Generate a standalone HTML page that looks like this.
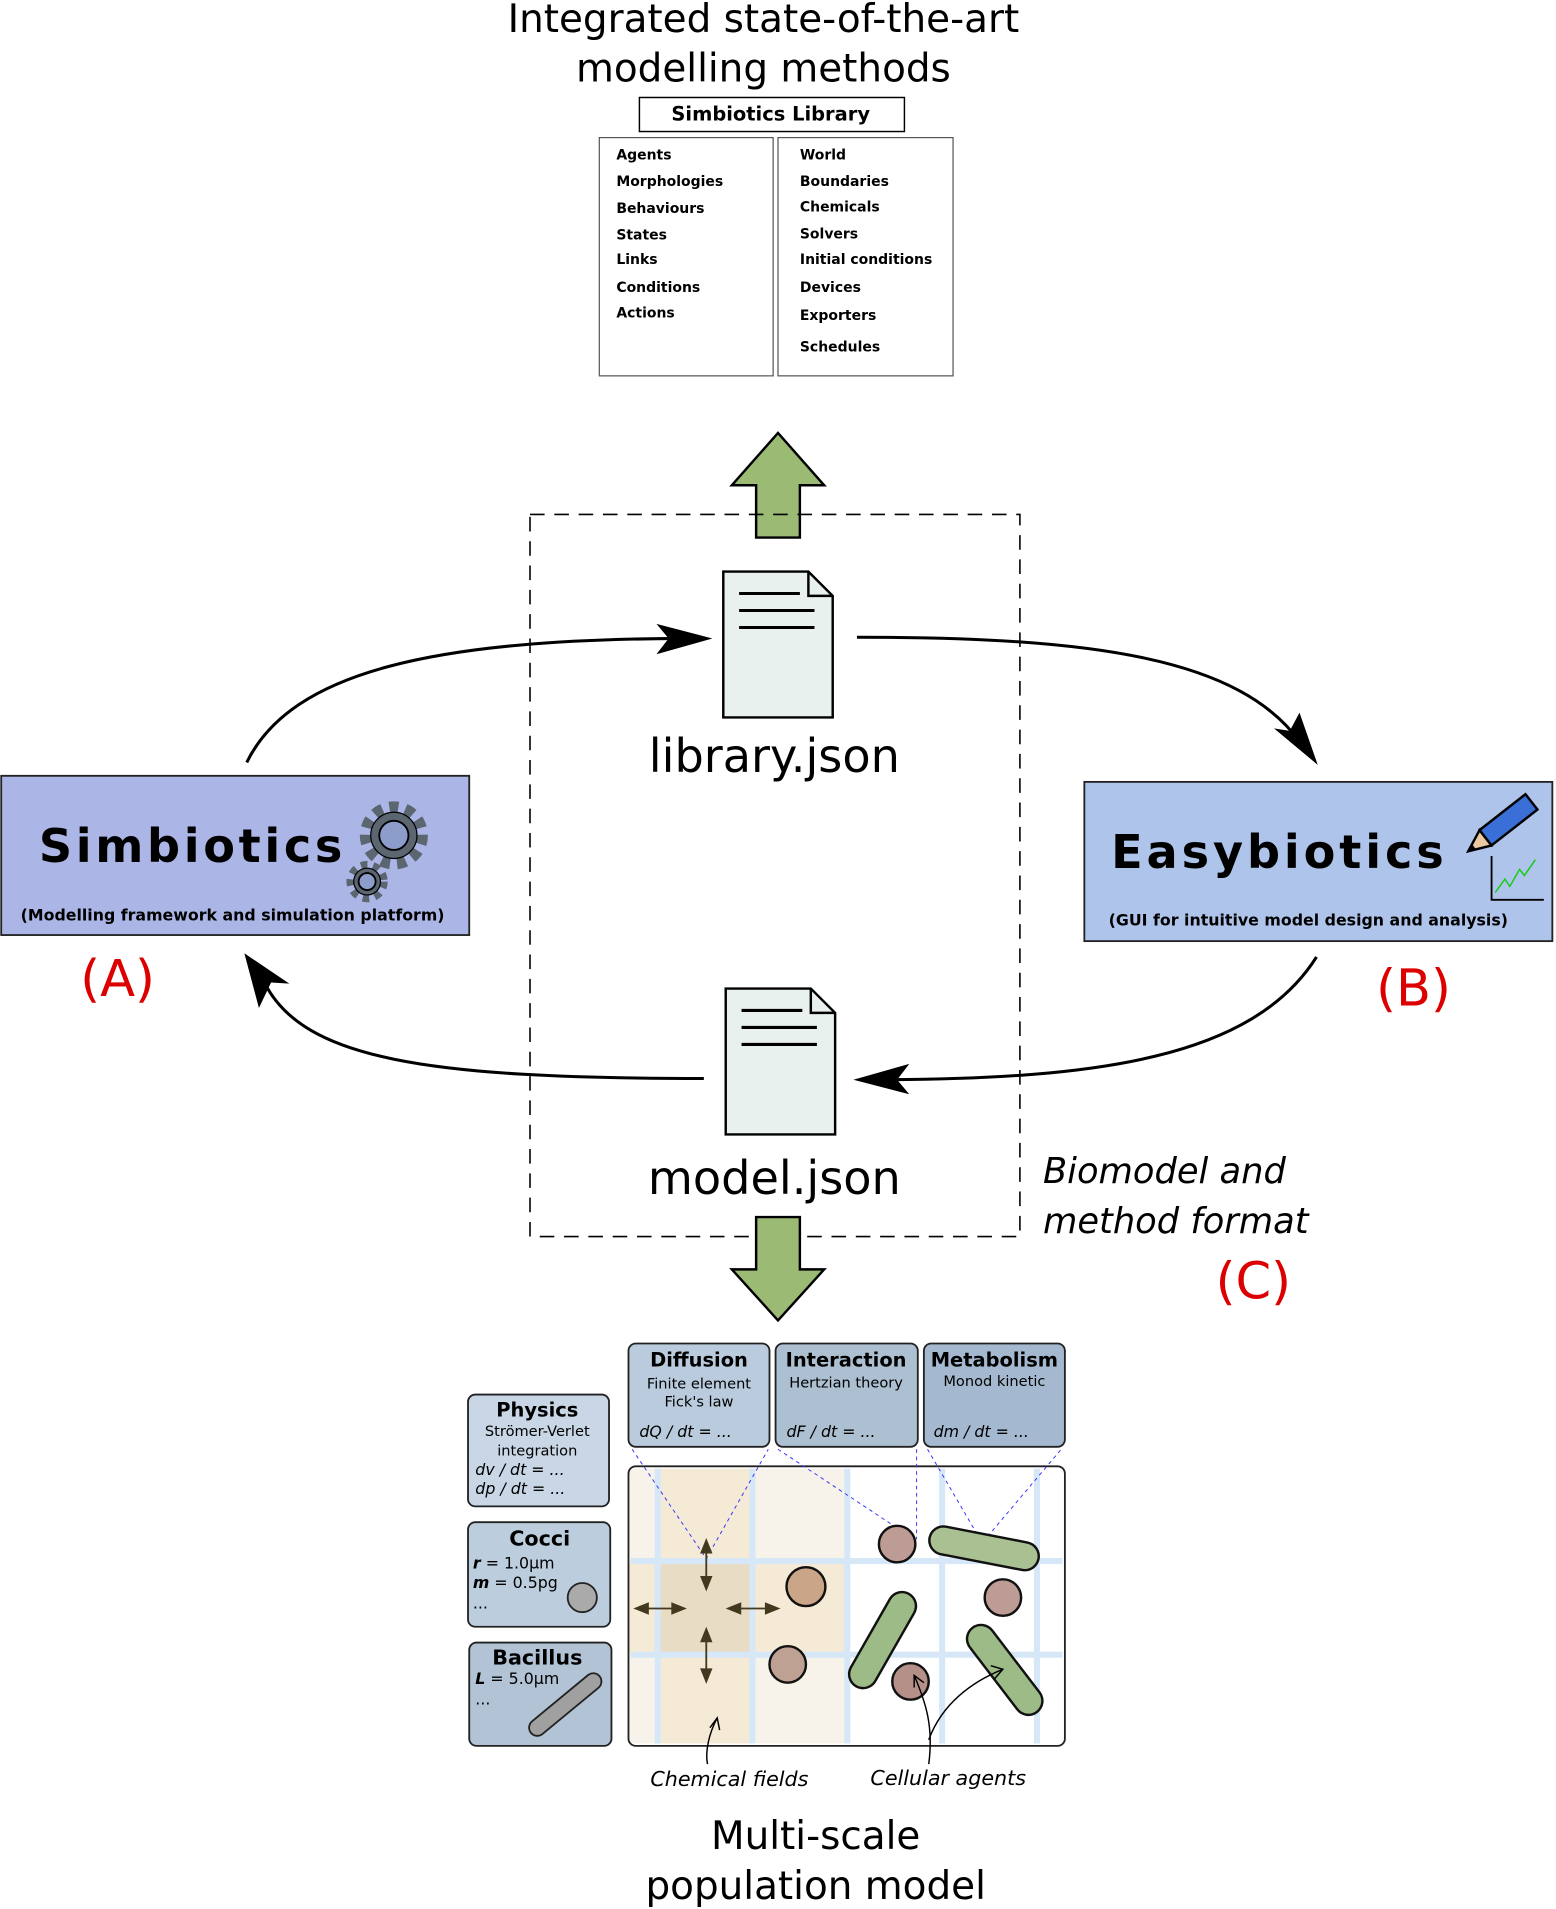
<!DOCTYPE html>
<html><head><meta charset="utf-8"><style>html,body{margin:0;padding:0;background:#fff}svg{display:block}text{font-family:"DejaVu Sans","Liberation Sans",sans-serif}</style></head><body>
<svg width="1556" height="1909" viewBox="0 0 1280 1568" xmlns="http://www.w3.org/2000/svg">
<text x="628" y="25" font-size="32" text-anchor="middle">Integrated state-of-the-art</text>
<text x="628" y="66" font-size="32" text-anchor="middle">modelling methods</text>
<rect x="526" y="79" width="218" height="28" fill="#fff" stroke="#000" stroke-width="1.2"/>
<text x="634" y="98" font-size="16" font-weight="bold" text-anchor="middle">Simbiotics Library</text>
<rect x="493" y="112" width="143" height="196" fill="#fff" stroke="#555"/>
<rect x="640" y="112" width="144" height="196" fill="#fff" stroke="#555"/>
<g font-size="11.5" font-weight="bold">
<text x="507" y="130">Agents</text><text x="507" y="152">Morphologies</text><text x="507" y="174">Behaviours</text><text x="507" y="196">States</text><text x="507" y="216">Links</text><text x="507" y="239">Conditions</text><text x="507" y="260">Actions</text>
<text x="658" y="130">World</text><text x="658" y="152">Boundaries</text><text x="658" y="173">Chemicals</text><text x="658" y="195">Solvers</text><text x="658" y="216">Initial conditions</text><text x="658" y="239">Devices</text><text x="658" y="262">Exporters</text><text x="658" y="288">Schedules</text>
</g>
<path d="M622,441 L658,441 L658,398 L678,398 L640,355 L602,398 L622,398 Z" fill="#9bbb74" stroke="#000" stroke-width="2"/>
<rect x="436" y="422" width="403" height="594" fill="none" stroke="#000" stroke-width="1.3" stroke-dasharray="12,8"/>
<path d="M595,469 L665,469 L685,489 L685,589 L595,589 Z" fill="#e9f1ee" stroke="#000" stroke-width="2"/>
<path d="M665,469 L665,489 L685,489" fill="none" stroke="#000" stroke-width="2"/>
<path d="M608,487h50M608,501h62M608,515h62" stroke="#000" stroke-width="2.5"/>
<text x="637" y="634" font-size="38" text-anchor="middle">library.json</text>
<path d="M597,812 L667,812 L687,832 L687,932 L597,932 Z" fill="#e9f1ee" stroke="#000" stroke-width="2"/>
<path d="M667,812 L667,832 L687,832" fill="none" stroke="#000" stroke-width="2"/>
<path d="M610,830h50M610,844h62M610,858h62" stroke="#000" stroke-width="2.5"/>
<text x="637" y="981" font-size="38" text-anchor="middle">model.json</text>
<text x="858" y="972" font-size="29" font-style="italic">Biomodel and</text>
<text x="858" y="1013" font-size="29" font-style="italic">method format</text>
<text x="1000" y="1067" font-size="42" fill="#d00">(C)</text>
<path d="M622,1000 L658,1000 L658,1043 L678,1043 L640,1085 L602,1043 L622,1043 Z" fill="#9bbb74" stroke="#000" stroke-width="2"/>
<g fill="none" stroke="#000" stroke-width="2.5">
<path d="M203,626 C240,550 360,525 560,524"/>
<path d="M705,523 C900,523 1020,540 1070,610"/>
<path d="M1083,786 C1030,870 900,886 730,887"/>
<path d="M579,886 C350,886 250,870 218,808"/>
</g>
<path d="M586,524 L540,512 L550,524 L540,537 Z"/>
<path d="M1084,628 L1048,598 L1061,600 L1069,585 Z"/>
<path d="M702,887 L748,874 L738,887 L748,899 Z"/>
<path d="M201,783 L238,808 L223,807 L213,828 Z"/>
<rect x="1" y="637" width="385" height="131" fill="#abb6e6" stroke="#222" stroke-width="1.5"/>
<text x="32" y="708" font-size="38" font-weight="bold" letter-spacing="3" font-family="Liberation Sans">Simbiotics</text>
<text x="17" y="756" font-size="13" font-weight="bold" font-family="Liberation Sans">(Modelling framework and simulation platform)</text>
<g stroke="#000" stroke-width="1">
<circle cx="324" cy="686" r="22" fill="none" stroke="#5c6670" stroke-width="12" stroke-dasharray="7,5.5"/>
<circle cx="324" cy="686" r="19" fill="#5c6670"/>
<circle cx="324" cy="686" r="12" fill="#8c9dcc" stroke="#000" stroke-width="1.5"/>
<circle cx="302" cy="724" r="13" fill="none" stroke="#5c6670" stroke-width="8" stroke-dasharray="5,4.4"/>
<circle cx="302" cy="724" r="11" fill="#5c6670"/>
<circle cx="302" cy="724" r="7" fill="#8c9dcc" stroke="#000" stroke-width="1.5"/>
</g>
<text x="66" y="818" font-size="42" fill="#d00">(A)</text>
<rect x="892" y="642" width="385" height="131" fill="#afc4ea" stroke="#222" stroke-width="1.5"/>
<text x="914" y="713" font-size="38" font-weight="bold" letter-spacing="3.2" font-family="Liberation Sans">Easybiotics</text>
<text x="912" y="760" font-size="13" font-weight="bold" font-family="Liberation Sans">(GUI for intuitive model design and analysis)</text>
<path d="M1227,703 V739 H1270" fill="none" stroke="#000" stroke-width="1.5"/>
<path d="M1230,733 L1238,722 L1242,728 L1250,714 L1254,719 L1263,706" fill="none" stroke="#1c1" stroke-width="1.2"/>
<g transform="translate(1222,688) rotate(-38)">
<rect x="0" y="-8" width="48" height="16" fill="#3a6fd8" stroke="#000" stroke-width="2"/>
<path d="M0,-8 L-18,0 L0,8 Z" fill="#e8c9a0" stroke="#000" stroke-width="2"/>
<path d="M-12,-3 L-18,0 L-12,3Z" fill="#000"/>
</g>
<text x="1132" y="826" font-size="42" fill="#d00">(B)</text>
<g stroke="#222" stroke-width="1.5">
<rect x="385" y="1146" width="116" height="92" rx="6" fill="#c8d6e5"/>
<rect x="385" y="1251" width="117" height="86" rx="6" fill="#bccede"/>
<rect x="386" y="1350" width="117" height="85" rx="6" fill="#b1c3d4"/>
<rect x="517" y="1104" width="116" height="85" rx="6" fill="#b9cbdc"/>
<rect x="638" y="1104" width="117" height="85" rx="6" fill="#adc0d1"/>
<rect x="760" y="1104" width="116" height="85" rx="6" fill="#a4b9d0"/>
</g>
<g text-anchor="middle">
<text x="442" y="1164" font-size="16" font-weight="bold">Physics</text>
<text x="442" y="1180" font-size="12">Strömer-Verlet</text>
<text x="442" y="1196" font-size="12">integration</text>
<text x="444" y="1270" font-size="17" font-weight="bold">Cocci</text>
<text x="442" y="1368" font-size="17" font-weight="bold">Bacillus</text>
<text x="575" y="1123" font-size="16" font-weight="bold">Diffusion</text>
<text x="575" y="1141" font-size="12">Finite element</text>
<text x="575" y="1156" font-size="12">Fick's law</text>
<text x="696" y="1123" font-size="16" font-weight="bold">Interaction</text>
<text x="696" y="1140" font-size="12">Hertzian theory</text>
<text x="818" y="1123" font-size="16" font-weight="bold">Metabolism</text>
<text x="818" y="1139" font-size="12">Monod kinetic</text>
</g>
<g font-size="13" font-style="italic">
<text x="391" y="1212">dv / dt = ...</text><text x="391" y="1228">dp / dt = ...</text>
<text x="526" y="1181">dQ / dt = ...</text><text x="647" y="1181">dF / dt = ...</text><text x="768" y="1181">dm / dt = ...</text>
</g>
<g font-size="13">
<text x="389" y="1289"><tspan font-weight="bold" font-style="italic">r</tspan> = 1.0µm</text>
<text x="389" y="1305"><tspan font-weight="bold" font-style="italic">m</tspan> = 0.5pg</text>
<text x="389" y="1322">...</text>
<text x="391" y="1384"><tspan font-weight="bold" font-style="italic">L</tspan> = 5.0µm</text>
<text x="391" y="1401">...</text>
</g>
<circle cx="479" cy="1313" r="12" fill="#aaa" stroke="#222" stroke-width="1.5"/>
<line x1="442" y1="1420" x2="488" y2="1382" stroke="#222" stroke-width="15" stroke-linecap="round"/>
<line x1="442" y1="1420" x2="488" y2="1382" stroke="#a0a0a0" stroke-width="12" stroke-linecap="round"/>
<rect x="517" y="1205" width="359" height="230" rx="6" fill="#fff"/>
<rect x="517" y="1207" width="179" height="226" fill="#f7f3ea"/>
<rect x="541" y="1207" width="78" height="226" fill="#f5ead5"/>
<rect x="517" y="1283" width="179" height="77" fill="#f5ead5"/>
<rect x="541" y="1283" width="78" height="77" fill="#e8dcc5"/>
<g stroke="#d6e8f8" stroke-width="5">
<path d="M541,1207V1433M619,1207V1433M697,1207V1433M775,1207V1433M853,1207V1433M519,1283H874M519,1360H874"/>
</g>
<rect x="517" y="1205" width="359" height="230" rx="6" fill="none" stroke="#222" stroke-width="1.5"/>
<g stroke="#33f" stroke-width="0.8" stroke-dasharray="3,3" fill="none">
<path d="M520,1191 L581,1281 L632,1191"/>
<path d="M640,1191 L752,1265 M754,1191 V1265 M763,1191 L808,1268 L873,1191"/>
</g>
<g stroke="#43391f" stroke-width="1.5" fill="#43391f">
<path d="M581,1270V1302M581,1343V1378M527,1322H559M603,1322H636"/>
<path d="M581,1266l-4,10h8zM581,1306l-4,-10h8zM581,1339l-4,10h8zM581,1382l-4,-10h8zM523,1322l10,-4v8zM563,1322l-10,-4v8zM599,1322l10,-4v8zM640,1322l-10,-4v8z"/>
</g>
<g stroke="#111" stroke-width="2">
<line x1="776" y1="1266" x2="843" y2="1279" stroke-width="25" stroke-linecap="round"/>
<line x1="776" y1="1266" x2="843" y2="1279" stroke="#a9c092" stroke-width="21" stroke-linecap="round"/>
<line x1="710" y1="1376" x2="742" y2="1320" stroke-width="25" stroke-linecap="round"/>
<line x1="710" y1="1376" x2="742" y2="1320" stroke="#9dbb87" stroke-width="21" stroke-linecap="round"/>
<line x1="807" y1="1347" x2="846" y2="1398" stroke-width="25" stroke-linecap="round"/>
<line x1="807" y1="1347" x2="846" y2="1398" stroke="#9dbb87" stroke-width="21" stroke-linecap="round"/>
<circle cx="738" cy="1269" r="15" fill="#bc9c94"/>
<circle cx="825" cy="1313" r="15" fill="#bc9c94"/>
<circle cx="749" cy="1382" r="15" fill="#b59089"/>
<circle cx="663" cy="1304" r="16" fill="#caa587"/>
<circle cx="648" cy="1368" r="15" fill="#bfa193"/>
</g>
<g fill="none" stroke="#000" stroke-width="1.2">
<path d="M582,1450 C580,1440 583,1425 590,1412 M584,1420 L590,1412 L592,1422"/>
<path d="M764,1450 C768,1420 762,1400 752,1377 M752,1387 L752,1377 L760,1383"/>
<path d="M764,1430 C775,1400 800,1382 825,1372 M815,1369 L825,1372 L818,1380"/>
</g>
<text x="600" y="1468" font-size="17" font-style="italic" text-anchor="middle">Chemical fields</text>
<text x="780" y="1467" font-size="17" font-style="italic" text-anchor="middle">Cellular agents</text>
<text x="671" y="1520" font-size="32" text-anchor="middle">Multi-scale</text>
<text x="671" y="1561" font-size="32" text-anchor="middle">population model</text>
</svg>
</body></html>
